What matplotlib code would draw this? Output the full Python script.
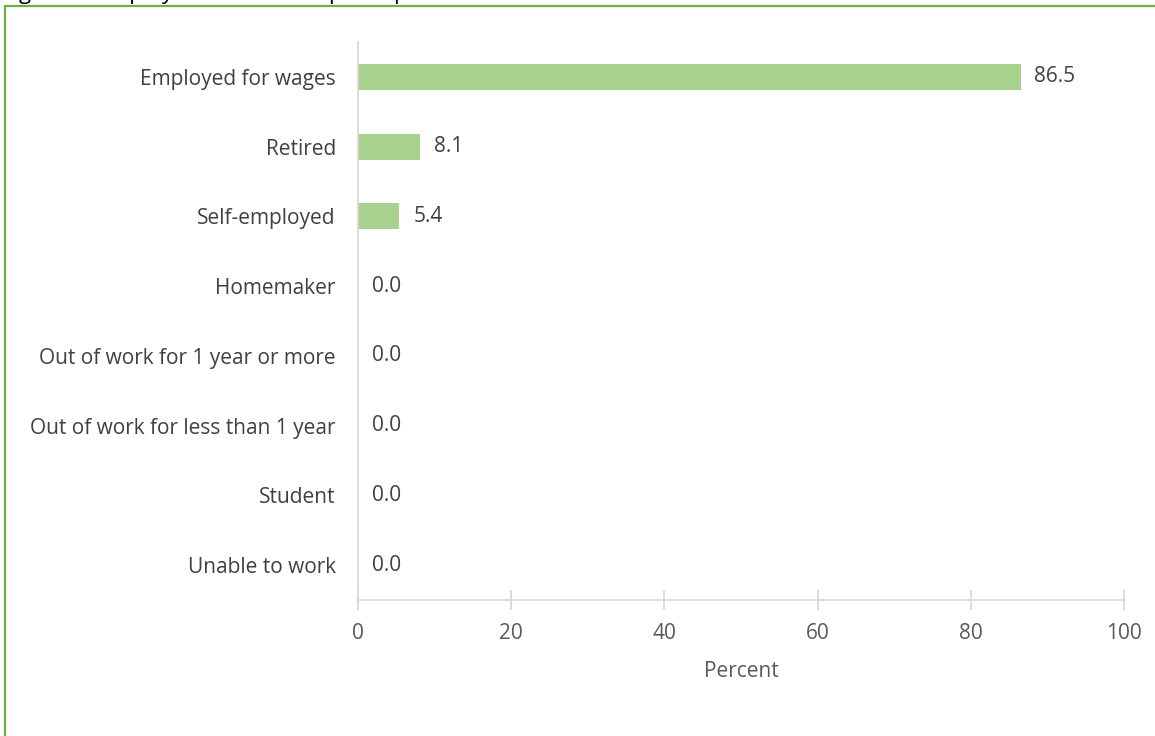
import matplotlib.pyplot as plt
from matplotlib.patches import Rectangle

categories = [
    "Employed for wages",
    "Retired",
    "Self-employed",
    "Homemaker",
    "Out of work for 1 year or more",
    "Out of work for less than 1 year",
    "Student",
    "Unable to work",
]
percent = [86.5, 8.1, 5.4, 0.0, 0.0, 0.0, 0.0, 0.0]
x_ticks = [0, 20, 40, 60, 80, 100]

plt.rcParams["font.family"] = ["Open Sans", "DejaVu Sans"]

fig = plt.figure(figsize=(11.55, 7.36), dpi=100)
ax = fig.add_axes([358 / 1155, 1 - 600 / 736, (1124 - 358) / 1155, (600 - 42) / 736])

pos = list(range(len(categories)))
ax.barh(pos, percent, height=0.37, color="#A9D18E")
ax.set_ylim(len(categories) - 0.5, -0.5)
ax.set_xlim(0, 100)

for y, v in zip(pos, percent):
    ax.text(v + 1.8, y, f"{v:.1f}", va="center", ha="left", fontsize=15, color="#404040")

ax.set_yticks(pos)
ax.set_yticklabels(categories, fontsize=15, color="#404040")
ax.tick_params(axis="y", length=0, pad=16)
ax.set_xticks(x_ticks)
ax.set_xticklabels([str(t) for t in x_ticks], fontsize=15, color="#595959")
ax.tick_params(axis="x", direction="inout", length=15, width=1.3, color="#D9D9D9", pad=9)
ax.set_xlabel("Percent", fontsize=15, color="#595959", labelpad=12)

for side in ["top", "right"]:
    ax.spines[side].set_visible(False)
for side in ["left", "bottom"]:
    ax.spines[side].set_color("#D9D9D9")
    ax.spines[side].set_linewidth(1.3)

# caption sits above the frame and is cut off, as in the original
fig.text(0.002, 1.001, "Figure 1. Employment status of participants", fontsize=16,
         va="baseline", ha="left", color="black")

fig.patches.append(Rectangle((4.5 / 1155, -0.1), 1.2, 1 - 5.5 / 736 + 0.1,
                             transform=fig.transFigure, fill=False,
                             edgecolor="#70AD47", linewidth=1.6))

fig.savefig("out.png", dpi=100)
